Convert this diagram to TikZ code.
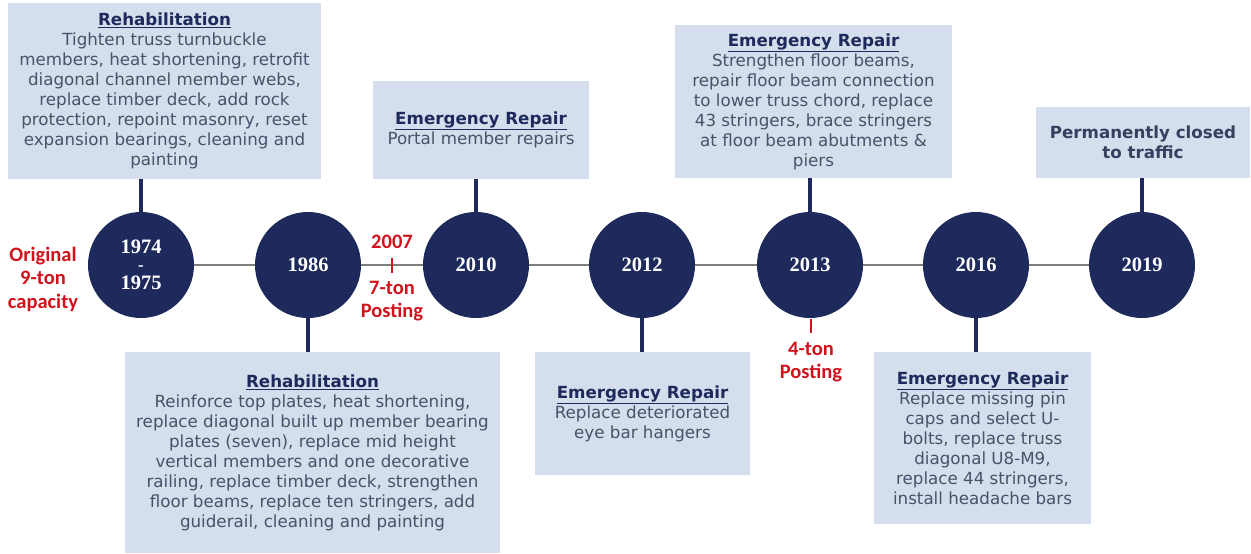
\documentclass[tikz,border=0pt]{standalone}
\usepackage{fontspec}
\setmainfont{DejaVu Sans}
\newfontfamily\vfont{DejaVu Sans}
\newfontfamily\cfont{Carlito}
\newfontfamily\yfont{Liberation Serif}
\definecolor{navy}{HTML}{1F2A5C}
\definecolor{boxfill}{HTML}{D5DEEC}
\definecolor{bodytxt}{HTML}{44546A}
\definecolor{closedtxt}{HTML}{34405E}
\definecolor{redlab}{HTML}{D0121B}
\definecolor{linegray}{HTML}{7F7F7F}
\tikzset{
  yr/.style={circle, fill=navy, minimum size=106pt, inner sep=0pt, text=white,
    font=\yfont\bfseries\fontsize{20.5}{20}\selectfont, align=center},
  infobox/.style={rectangle, fill=boxfill, inner sep=0pt, text=bodytxt,
    font=\vfont\fontsize{16.7}{20}\selectfont, align=center},
  conn/.style={draw=navy, line width=4pt},
  tl/.style={draw=linegray, line width=2pt},
  redlbl/.style={text=redlab, font=\cfont\bfseries\fontsize{20.5}{23.5}\selectfont, align=center, inner sep=0pt},
  redtick/.style={draw=redlab, line width=2pt}
}
\newcommand{\hd}[1]{\textcolor{navy}{\bfseries\underline{#1}}}
\begin{document}
\begin{tikzpicture}[x=1pt,y=-1pt]
\useasboundingbox (0,0) rectangle (1251,554);
% circles
\node[yr] (c1) at (141,265) {1974\\[-3pt]\fontsize{17}{12}\selectfont -\\[-1pt]\fontsize{20.5}{20}\selectfont 1975};
\node[yr] (c2) at (308,265) {1986};
\node[yr] (c3) at (476,265) {2010};
\node[yr] (c4) at (642,265) {2012};
\node[yr] (c5) at (810,265) {2013};
\node[yr] (c6) at (976,265) {2016};
\node[yr] (c7) at (1142,265) {2019};
% timeline
\draw[tl] (c1.east) -- (c2.west);
\draw[tl] (c2.east) -- (c3.west);
\draw[tl] (c3.east) -- (c4.west);
\draw[tl] (c4.east) -- (c5.west);
\draw[tl] (c5.east) -- (c6.west);
\draw[tl] (c6.east) -- (c7.west);
% boxes
\node[infobox, minimum width=313pt, minimum height=176pt] (b1) at (164.5,91)
 {\hd{Rehabilitation}\\Tighten truss turnbuckle\\members, heat shortening, retrofit\\diagonal channel member webs,\\replace timber deck, add rock\\protection, repoint masonry, reset\\expansion bearings, cleaning and\\painting};
\node[infobox, minimum width=375pt, minimum height=201pt] (b2) at (312.5,452.5)
 {\hd{Rehabilitation}\\Reinforce top plates, heat shortening,\\replace diagonal built up member bearing\\plates (seven), replace mid height\\vertical members and one decorative\\railing, replace timber deck, strengthen\\floor beams, replace ten stringers, add\\guiderail, cleaning and painting};
\node[infobox, minimum width=216pt, minimum height=98pt] (b3) at (481,130)
 {\hd{Emergency Repair}\\Portal member repairs};
\node[infobox, minimum width=215pt, minimum height=123pt] (b4) at (642.5,413.5)
 {\hd{Emergency Repair}\\Replace deteriorated\\eye bar hangers};
\node[infobox, minimum width=277pt, minimum height=153pt] (b5) at (813.5,101.5)
 {\hd{Emergency Repair}\\Strengthen floor beams,\\repair floor beam connection\\to lower truss chord, replace\\43 stringers, brace stringers\\at floor beam abutments \&\\piers};
\node[infobox, minimum width=217pt, minimum height=172pt] (b6) at (982.5,438)
 {\hd{Emergency Repair}\\Replace missing pin\\caps and select U-\\bolts, replace truss\\diagonal U8-M9,\\replace 44 stringers,\\install headache bars};
\node[infobox, minimum width=214pt, minimum height=71pt, text=closedtxt, font=\vfont\bfseries\fontsize{16.7}{20}\selectfont] (b7) at (1143,142.5)
 {Permanently closed\\to traffic};
% connectors
\draw[conn] (c1.north) -- (c1.north |- b1.south);
\draw[conn] (c2.south) -- (c2.south |- b2.north);
\draw[conn] (c3.north) -- (c3.north |- b3.south);
\draw[conn] (c4.south) -- (c4.south |- b4.north);
\draw[conn] (c5.north) -- (c5.north |- b5.south);
\draw[conn] (c6.south) -- (c6.south |- b6.north);
\draw[conn] (c7.north) -- (c7.north |- b7.south);
% red labels
\node[redlbl] (orig) at (43,279) {Original\\9-ton\\capacity};
\node[redlbl] (y2007) at (392,242) {2007};
\coordinate (t1a) at (392,258);
\coordinate (t1b) at (392,273);
\draw[redtick] (t1a) -- (t1b);
\node[redlbl] (p7) at (392,301) {7-ton\\Posting};
\coordinate (t2a) at (811,319);
\coordinate (t2b) at (811,333);
\draw[redtick] (t2a) -- (t2b);
\node[redlbl] (p4) at (811,362) {4-ton\\Posting};
\end{tikzpicture}
\end{document}
